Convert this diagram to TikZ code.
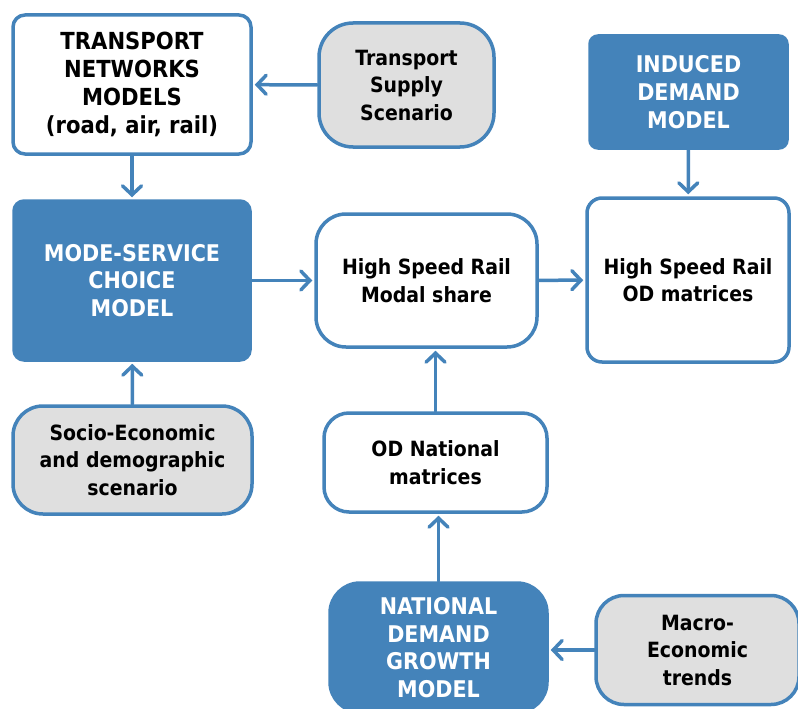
\documentclass[tikz,border=0pt]{standalone}
\usepackage{fontspec}
\setmainfont{DejaVu Sans Condensed}
\usetikzlibrary{arrows.meta}
\definecolor{modelblue}{RGB}{68,131,186}
\definecolor{scengray}{RGB}{223,223,223}
\tikzset{
  box/.style={draw=modelblue, line width=3.5pt, align=center, inner sep=0pt,
    font=\fontsize{21}{27.5}\selectfont\bfseries},
  whitebox/.style={box, fill=white, text=black},
  graybox/.style={box, fill=scengray, text=black},
  bluebox/.style={box, fill=modelblue, text=white, font=\fontsize{23}{27.7}\selectfont\bfseries},
  flow/.style={draw=modelblue, line width=3.5pt, line cap=round,
    -{Straight Barb[length=9pt,width=19pt,line cap=round]}, shorten >=2pt}
}
\begin{document}
\begin{tikzpicture}[x=1pt, y=-1pt]
            \useasboundingbox (0,0) rectangle (798,709);
            % top row
            \node[whitebox, rounded corners=12pt, minimum width=238pt, minimum height=139pt,
                font=\fontsize{23.5}{28}\selectfont\bfseries] (netw) at (132,84.5)
                {TRANSPORT\\NETWORKS\\MODELS\\(road, air, rail)};
            \node[graybox, rounded corners=34pt, minimum width=175pt, minimum height=124pt] (supply) at (406.5,85)
                {Transport\\Supply\\Scenario};
            \node[bluebox, rounded corners=8pt, minimum width=197pt, minimum height=112pt] (induced) at (688.5,92)
                {INDUCED\\DEMAND\\MODEL};
            % middle row
            \node[bluebox, rounded corners=10pt, minimum width=236pt, minimum height=159pt] (choice) at (132,280.5)
                {MODE-SERVICE\\CHOICE\\MODEL};
            \node[whitebox, rounded corners=30pt, minimum width=221pt, minimum height=133pt] (share) at (426.5,280.5)
                {High Speed Rail\\Modal share};
            \node[whitebox, rounded corners=15pt, minimum width=202pt, minimum height=164pt] (hsrod) at (688,280)
                {High Speed Rail\\OD matrices};
            % lower rows
            \node[graybox, rounded corners=30pt, minimum width=239pt, minimum height=108pt] (socio) at (132.5,460)
                {Socio-Economic\\and demographic\\scenario};
            \node[whitebox, rounded corners=25pt, minimum width=223pt, minimum height=99pt] (natod) at (435.5,462.5)
                {OD National\\matrices};
            \node[bluebox, rounded corners=30pt, minimum width=217pt, minimum height=129pt] (growth) at (438.5,647.5)
                {NATIONAL\\DEMAND\\GROWTH\\MODEL};
            \node[graybox, rounded corners=28pt, minimum width=203pt, minimum height=109pt] (macro) at (697.5,650)
                {Macro-\\Economic\\trends};
            % connectors
            \draw[flow] (supply) -- (netw);
            \draw[flow] (netw) -- (choice);
            \draw[flow] (socio) -- (choice);
            \draw[flow] (choice) -- (share);
            \draw[flow] (share) -- (hsrod);
            \draw[flow] (induced) -- (hsrod);
            \draw[flow] (natod.north) -- (natod.north |- share.south);
            \draw[flow] (growth.north) -- (growth.north |- natod.south);
            \draw[flow] (macro.west) -- (macro.west -| growth.east);
        \end{tikzpicture}
\end{document}
